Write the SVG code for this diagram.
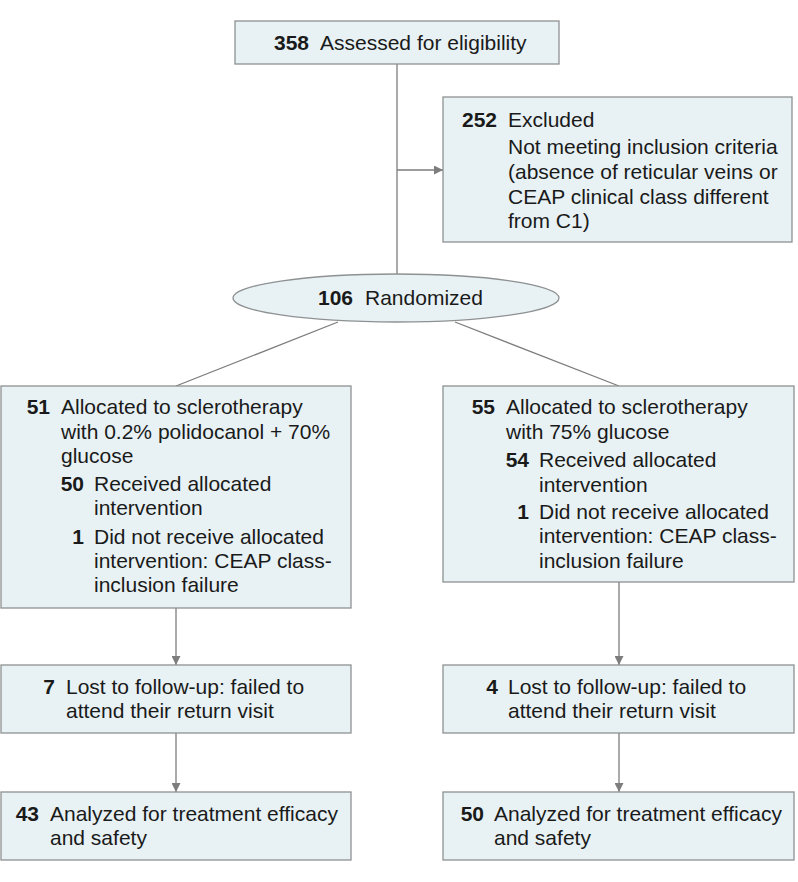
<svg xmlns="http://www.w3.org/2000/svg" width="798" height="882" viewBox="0 0 798 882">
<defs>
<style>
.box{fill:#e8f2f4;stroke:#8e9192;stroke-width:1.3}
.ln{stroke:#7d7d7d;stroke-width:1.3;fill:none}
text{font-family:"Liberation Sans",Arial,sans-serif;font-size:21px;fill:#1a1a1a}
.n{font-weight:bold;text-anchor:end}
</style>
<marker id="ah" viewBox="0 0 10 10" refX="10" refY="5" markerWidth="11" markerHeight="9" markerUnits="userSpaceOnUse" orient="auto">
<path d="M0,0 L10,5 L0,10 z" fill="#7d7d7d"/>
</marker>
</defs>
<rect width="798" height="882" fill="#ffffff"/>
<g id="connectors">
<line class="ln" x1="397" y1="64" x2="397" y2="274"/>
<line class="ln" x1="397" y1="170" x2="443" y2="170" marker-end="url(#ah)"/>
<line class="ln" x1="338" y1="322" x2="176" y2="386"/>
<line class="ln" x1="455" y1="322" x2="619" y2="386"/>
<line class="ln" x1="176" y1="608" x2="176" y2="665" marker-end="url(#ah)"/>
<line class="ln" x1="619" y1="582" x2="619" y2="665" marker-end="url(#ah)"/>
<line class="ln" x1="176" y1="733" x2="176" y2="792" marker-end="url(#ah)"/>
<line class="ln" x1="619" y1="733" x2="619" y2="792" marker-end="url(#ah)"/>
</g>
<g id="assessed">
<rect class="box" x="235" y="21" width="324" height="43"/>
<text class="n" x="309" y="50">358</text>
<text x="320" y="50">Assessed for eligibility</text>
</g>
<g id="excluded">
<rect class="box" x="443" y="97" width="349" height="145"/>
<text class="n" x="497" y="127">252</text>
<text x="508" y="127">Excluded</text>
<text x="508" y="154">Not meeting inclusion criteria</text>
<text x="508" y="179">(absence of reticular veins or</text>
<text x="508" y="204">CEAP clinical class different</text>
<text x="508" y="228">from C1)</text>
</g>
<g id="randomized">
<ellipse class="box" cx="396" cy="298" rx="163" ry="24"/>
<text class="n" x="353" y="305">106</text>
<text x="365" y="305">Randomized</text>
</g>
<g id="alloc-left">
<rect class="box" x="1" y="386" width="350" height="222"/>
<text class="n" x="50" y="414">51</text>
<text x="61" y="414">Allocated to sclerotherapy</text>
<text x="61" y="439">with 0.2% polidocanol + 70%</text>
<text x="61" y="463">glucose</text>
<text class="n" x="84" y="491">50</text>
<text x="94" y="491">Received allocated</text>
<text x="94" y="515">intervention</text>
<text class="n" x="84" y="544">1</text>
<text x="94" y="544">Did not receive allocated</text>
<text x="94" y="568">intervention: CEAP class-</text>
<text x="94" y="592">inclusion failure</text>
</g>
<g id="alloc-right">
<rect class="box" x="443" y="386" width="351" height="196"/>
<text class="n" x="495" y="414">55</text>
<text x="506" y="414">Allocated to sclerotherapy</text>
<text x="506" y="439">with 75% glucose</text>
<text class="n" x="529" y="467">54</text>
<text x="539" y="467">Received allocated</text>
<text x="539" y="492">intervention</text>
<text class="n" x="529" y="519">1</text>
<text x="539" y="519">Did not receive allocated</text>
<text x="539" y="543">intervention: CEAP class-</text>
<text x="539" y="568">inclusion failure</text>
</g>
<g id="lost-left">
<rect class="box" x="1" y="665" width="350" height="68"/>
<text class="n" x="55" y="694">7</text>
<text x="66" y="694">Lost to follow-up: failed to</text>
<text x="66" y="718">attend their return visit</text>
</g>
<g id="lost-right">
<rect class="box" x="443" y="665" width="351" height="68"/>
<text class="n" x="498" y="694">4</text>
<text x="508" y="694">Lost to follow-up: failed to</text>
<text x="508" y="718">attend their return visit</text>
</g>
<g id="analyzed-left">
<rect class="box" x="1" y="792" width="350" height="68"/>
<text class="n" x="39" y="821">43</text>
<text x="50" y="821">Analyzed for treatment efficacy</text>
<text x="50" y="845">and safety</text>
</g>
<g id="analyzed-right">
<rect class="box" x="443" y="792" width="351" height="68"/>
<text class="n" x="484" y="821">50</text>
<text x="494" y="821">Analyzed for treatment efficacy</text>
<text x="494" y="845">and safety</text>
</g>
</svg>
